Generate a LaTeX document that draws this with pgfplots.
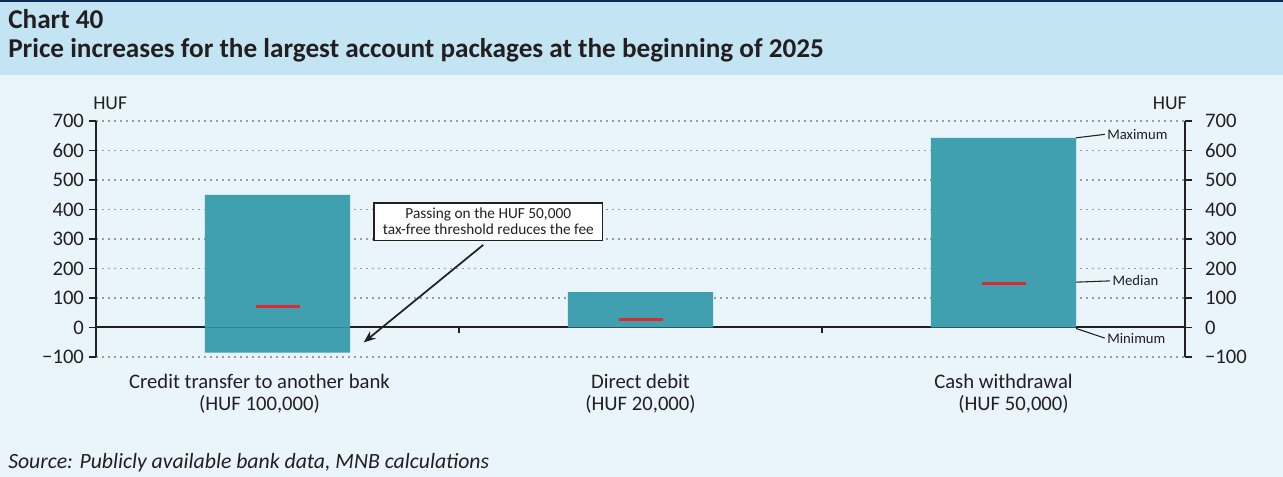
\documentclass[border=0pt]{standalone}
\usepackage{fontspec}
\setmainfont{Carlito}
\usepackage{pgfplots}
\pgfplotsset{compat=1.18}
\usetikzlibrary{arrows.meta}

\definecolor{navy}{HTML}{0D2B57}
\definecolor{titlebg}{HTML}{C2E4F3}
\definecolor{bodybg}{HTML}{E9F4FB}
\definecolor{barteal}{HTML}{40A0AF}
\definecolor{medred}{HTML}{DC2A2E}
\definecolor{ink}{HTML}{231F20}
\definecolor{gridgray}{HTML}{9A9A9A}

% shared frame of the two overlaid axes (left and right scales)
\pgfplotsset{
  mnbaxis/.style={
    at={(72pt,90pt)}, anchor=south west,
    scale only axis, width=816.75pt, height=177pt,
    xmin=-0.5, xmax=2.5, ymin=-100, ymax=700,
    ytick={-100,0,...,700},
    yticklabels={−100,0,100,200,300,400,500,600,700},
    yticklabel style={font=\fontsize{15.5}{18}\selectfont, text=ink},
    tick align=outside, major tick length=5.5pt,
    ytick style={line width=1.4pt, ink},
    axis line style={line width=1.5pt, ink},
    clip=false,
  }
}

\begin{document}
\begin{tikzpicture}[x=0.75pt,y=0.75pt]
% backgrounds and title
\fill[bodybg] (0,0) rectangle (1283,477);
\fill[titlebg] (0,402) rectangle (1283,475);
\fill[navy] (0,475) rectangle (1283,477);
\node[anchor=base west, inner sep=0, text=ink, font=\fontsize{20.4}{24}\selectfont\bfseries] at (8,448) {Chart 40};
\node[anchor=base west, inner sep=0, text=ink, font=\fontsize{20.4}{24}\selectfont\bfseries] at (8,419) {Price increases for the largest account packages at the beginning of 2025};
\node[anchor=base west, inner sep=0, text=ink, font=\fontsize{14.7}{17}\selectfont] at (93,367) {HUF};
\node[anchor=base east, inner sep=0, text=ink, font=\fontsize{14.7}{17}\selectfont] at (1187,367) {HUF};
\node[anchor=base west, inner sep=0, text=ink, font=\fontsize{16.3}{19}\selectfont\itshape] at (8,8) {Source: Publicly available bank data, MNB calculations};

\begin{axis}[mnbaxis,
  axis y line*=left, axis x line*=bottom,
  x axis line style={draw=none}, xtick style={draw=none},
  xtick={0,1,2},
  xticklabels={{Credit transfer to another bank\hspace*{27pt}\\(HUF 100,000)\hspace*{27pt}},
               {Direct debit\\(HUF 20,000)},
               {Cash withdrawal\\\hspace*{15pt}(HUF 50,000)}},
  xticklabel style={align=center, text=ink, yshift=-4pt,
                    font=\fontsize{15.5}{16}\selectfont},
  ymajorgrids,
  grid style={gridgray, line width=0.8pt, dash pattern=on 1.5pt off 3pt},
]
% zero line and small category separators
\draw[ink, line width=1.5pt] (axis cs:-0.5,0) -- (axis cs:2.5,0);
\draw[ink, line width=1.2pt] (axis cs:0.5,0) -- ++(0pt,-4pt);
\draw[ink, line width=1.2pt] (axis cs:1.5,0) -- ++(0pt,-4pt);

% floating bars: maximum and minimum both start from zero
\addplot[ybar, bar width=0.4, bar shift=0pt, fill=barteal, draw=none]
  coordinates {(0,450) (1,120) (2,643)};
\addplot[ybar, bar width=0.4, bar shift=0pt, fill=barteal, draw=none]
  coordinates {(0,-85) (1,0) (2,0)};

% medians
\addplot[only marks, mark=-, mark size=16.5pt,
  mark options={line width=2.5pt, medred}]
  coordinates {(0,72) (1,28) (2,150)};

% annotation
\draw[-{Stealth[length=9pt,width=7pt]}, line width=1.3pt, ink]
  (axis cs:0.5668,280) -- (axis cs:0.2374,-50.8);
\node[draw=ink, line width=1.1pt, fill=white, align=center, text=ink,
  inner xsep=6.5pt, inner ysep=4pt, font=\fontsize{11.5}{12}\selectfont]
  at (axis cs:0.5808,358.8) {Passing on the HUF 50,000\\tax-free threshold reduces the fee};

% leaders on the right
\draw[ink, line width=0.8pt] (axis cs:2.2,643) -- (axis cs:2.279,654.7)
  node[anchor=west, inner sep=1.5pt, text=ink, font=\fontsize{11}{13}\selectfont] {Maximum};
\draw[ink, line width=0.8pt] (axis cs:2.2,153.7) -- (axis cs:2.2936,158)
  node[anchor=west, inner sep=1.5pt, text=ink, font=\fontsize{11}{13}\selectfont] {Median};
\draw[ink, line width=0.8pt] (axis cs:2.2,-3.4) -- (axis cs:2.279,-35.9)
  node[anchor=west, inner sep=1.5pt, text=ink, font=\fontsize{11}{13}\selectfont] {Minimum};
\end{axis}

\begin{axis}[mnbaxis, axis y line*=right, axis x line=none,
  yticklabel style={xshift=6pt}]
\addplot[draw=none] coordinates {(0,0)};
\end{axis}
\end{tikzpicture}
\end{document}
